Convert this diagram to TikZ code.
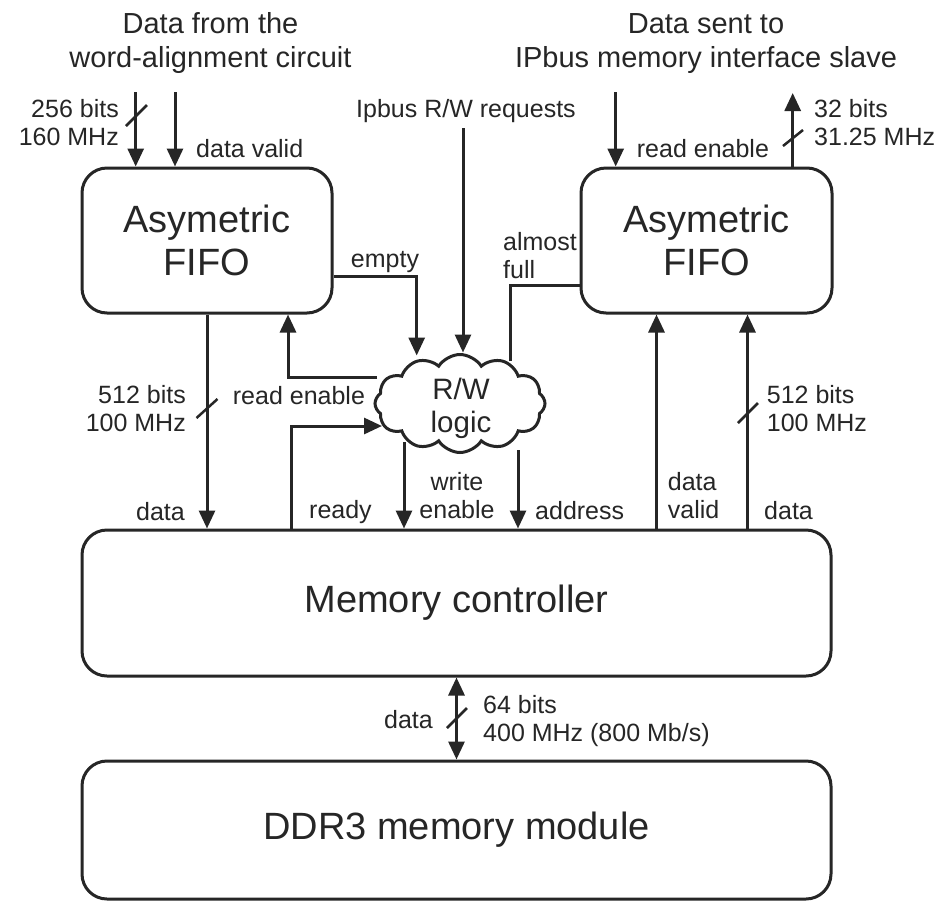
\documentclass[tikz,border=0pt]{standalone}
\usepackage{fontspec}
\setmainfont{Liberation Sans}
\usetikzlibrary{arrows.meta,calc,shapes.symbols}
\definecolor{ink}{HTML}{262626}
\newcommand\fbig{\fontsize{38}{43}\selectfont}
\newcommand\fcloud{\fontsize{29.5}{33}\selectfont}
\newcommand\ftitle{\fontsize{29}{34}\selectfont}
\newcommand\flabel{\fontsize{25}{28.5}\selectfont}
\newcommand\twolinesL[2]{\begin{tabular}[t]{@{}l@{}}#1\\#2\end{tabular}}
\newcommand\twolinesR[2]{\begin{tabular}[t]{@{}r@{}}#1\\#2\end{tabular}}
\newcommand\twolinesC[2]{\begin{tabular}[t]{@{}c@{}}#1\\#2\end{tabular}}
\begin{document}
\begin{tikzpicture}[x=1pt,y=-1pt,
  block/.style={draw=ink, line width=3pt, rounded corners=25pt, inner sep=0pt,
    align=center, font=\fbig, text=ink},
  lbl/.style={font=\flabel, text=ink, inner sep=0pt},
  title/.style={font=\ftitle, text=ink, inner sep=0pt},
  wire/.style={draw=ink, line width=3pt},
  arr/.style={wire, -{Triangle[length=18pt,width=16pt]}},
  biarr/.style={wire, {Triangle[length=18pt,width=16pt]}-{Triangle[length=18pt,width=16pt]}},
  buswidth/.style={draw=ink, line width=2.5pt}]

% canvas
\fill[white] (0,0) rectangle (943,903);
\useasboundingbox (0,0) rectangle (943,903);

% blocks
\node[block, minimum width=250pt, minimum height=145pt] (fifoL) at (207,240.5) {Asymetric\\FIFO};
\node[block, minimum width=251pt, minimum height=145pt] (fifoR) at (706.5,240.5) {Asymetric\\FIFO};
\node[block, minimum width=749pt, minimum height=146pt] (mc) at (456.5,603) {Memory controller};
\node[block, minimum width=749pt, minimum height=138pt] (ddr) at (456.5,830) {DDR3 memory module};
\node[cloud, draw=ink, fill=white, line width=3pt, cloud puffs=12, cloud puff arc=115, aspect=1.7,
  minimum width=170pt, minimum height=98pt, inner sep=0pt] (logic) at (460,403.5) {};
\node[inner sep=0pt, align=center, font=\fcloud, text=ink] (logicText) at (461,408) {R/W\\logic};

% titles
\node[title, anchor=base] (tIn) at (210.5,33) {\twolinesC{Data from the}{word-alignment circuit}};
\node[title, anchor=base] (tOut) at (706,33) {\twolinesC{Data sent to}{IPbus memory interface slave}};
\node[lbl, anchor=base] (tIp) at (466,117) {Ipbus R/W requests};

% free ends and contact points on the cloud
\coordinate (in256) at (135.7,92);
\coordinate (inDV) at (175,92);
\coordinate (ipReq) at (463,128);
\coordinate (reR) at (615.7,92);
\coordinate (out32) at (792.7,93);
\coordinate (cEmpty) at ($(logic.center)+(-43.3,-48)$);
\coordinate (cIp) at ($(logic.center)+(3,-51)$);
\coordinate (cFull) at ($(logic.center)+(50,-43)$);
\coordinate (cRE) at ($(logic.center)+(-83,-26)$);
\coordinate (cRdy) at ($(logic.center)+(-78,22.5)$);
\coordinate (cWE) at ($(logic.center)+(-56,38.5)$);
\coordinate (cAddr) at ($(logic.center)+(58,46.5)$);
\coordinate (dvR) at ($(fifoR.south)+(-50,0)$);
\coordinate (dataR) at ($(fifoR.south)+(41,0)$);

% inputs of the left FIFO
\draw[arr] (in256) -- (in256 |- fifoL.north);
\draw[arr] (inDV) -- (inDV |- fifoL.north);
% IPbus side of the right FIFO
\draw[arr] (reR) -- (reR |- fifoR.north);
\draw[arr] (out32 |- fifoR.north) -- (out32);
% requests into the R/W logic
\draw[arr] (ipReq) -- (cIp);
\draw[arr] ($(fifoL.east)+(0,35.5)$) -| (cEmpty);
\draw[wire] ($(fifoR.west)+(0,44.5)$) -| (cFull);
% R/W logic outputs
\draw[arr] (cRE) -| ($(fifoL.south)+(81,0)$);
\draw[arr] ($(mc.north)+(-165,0)$) |- (cRdy);
\draw[arr] (cWE) -- (cWE |- mc.north);
\draw[arr] (cAddr) -- (cAddr |- mc.north);
% data paths
\draw[arr] (fifoL.south) -- (fifoL.south |- mc.north);
\draw[arr] (dvR |- mc.north) -- (dvR);
\draw[arr] (dataR |- mc.north) -- (dataR);
\draw[biarr] (mc.south) -- (ddr.north);

% bus width marks
\draw[buswidth] (136.5,115.5) +(-10.5,10.5) -- +(10.5,-10.5);
\draw[buswidth] (793,138) +(-10,8) -- +(10,-8);
\draw[buswidth] (207,408.5) +(-10.5,9.5) -- +(10.5,-9.5);
\draw[buswidth] (748,413) +(-10,10) -- +(10,-10);
\draw[buswidth] (457,718) +(-10,10) -- +(10,-10);

% signal labels
\node[lbl, anchor=base east] at (119,117) {\twolinesR{256 bits}{160 MHz}};
\node[lbl, anchor=base west] at (196,157) {data valid};
\node[lbl, anchor=base] at (385,267) {empty};
\node[lbl, anchor=base west] at (503,250) {\twolinesL{almost}{full}};
\node[lbl, anchor=base west] at (636.7,157) {read enable};
\node[lbl, anchor=base west] at (814,117) {\twolinesL{32 bits}{31.25 MHz}};
\node[lbl, anchor=base east] at (186,403) {\twolinesR{512 bits}{100 MHz}};
\node[lbl, anchor=base west] at (232.7,404) {read enable};
\node[lbl, anchor=base east] at (185,520) {data};
\node[lbl, anchor=base west] at (309,518) {ready};
\node[lbl, anchor=base] at (457,490) {\twolinesC{write}{enable}};
\node[lbl, anchor=base west] at (535,519) {address};
\node[lbl, anchor=base west] at (667.7,490) {\twolinesL{data}{valid}};
\node[lbl, anchor=base west] at (764,519) {data};
\node[lbl, anchor=base west] at (766.7,403) {\twolinesL{512 bits}{100 MHz}};
\node[lbl, anchor=base east] at (433,728) {data};
\node[lbl, anchor=base west] at (483,713) {\twolinesL{64 bits}{400 MHz (800 Mb/s)}};
\end{tikzpicture}
\end{document}
